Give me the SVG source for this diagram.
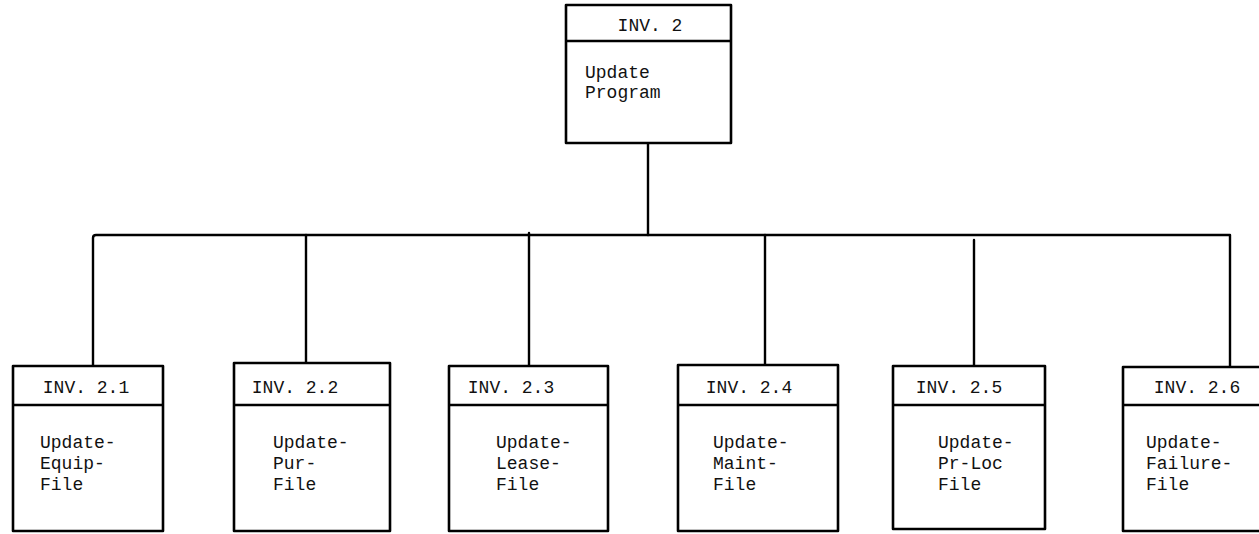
<svg xmlns="http://www.w3.org/2000/svg" width="1259" height="534" viewBox="0 0 1259 534">
  <style>
    .box { fill: #fff; stroke: #000; stroke-width: 2.6; stroke-linejoin: round; }
    .rule { stroke: #000; stroke-width: 2.4; fill: none; }
    .wire { stroke: #000; stroke-width: 2.4; fill: none; stroke-linecap: round; stroke-linejoin: round; }
    .t { font-family: "Liberation Mono", "DejaVu Sans Mono", monospace; font-size: 18px; fill: #111; }
    .c { text-anchor: middle; }
  </style>
  <rect width="1259" height="534" fill="#fff"/>

  <!-- connectors: trunk, bus and drops -->
  <g id="connectors">
    <path class="wire" d="M648 143 V235"/>
    <path class="wire" d="M93 366 V238 Q93 235 96 235 H1230 V367"/>
    <path class="wire" d="M306 235 V363"/>
    <path class="wire" d="M529 233 V366"/>
    <path class="wire" d="M765 235 V365"/>
    <path class="wire" d="M974 240 V366"/>
  </g>

  <g id="inv-2">
    <rect class="box" x="566" y="5" width="165" height="138"/>
    <line class="rule" x1="566" y1="41" x2="731" y2="41"/>
    <text class="t c" x="650" y="31">INV. 2</text>
    <text class="t" x="585" y="78">Update</text>
    <text class="t" x="585" y="98">Program</text>
  </g>

  <g id="inv-2-1">
    <rect class="box" x="13" y="366" width="150" height="165"/>
    <line class="rule" x1="13" y1="405" x2="163" y2="405"/>
    <text class="t c" x="86" y="393">INV. 2.1</text>
    <text class="t" x="40" y="448">Update-</text>
    <text class="t" x="40" y="469">Equip-</text>
    <text class="t" x="40" y="490">File</text>
  </g>

  <g id="inv-2-2">
    <rect class="box" x="234" y="363" width="156" height="168"/>
    <line class="rule" x1="234" y1="405" x2="390" y2="405"/>
    <text class="t c" x="295" y="393">INV. 2.2</text>
    <text class="t" x="273" y="448">Update-</text>
    <text class="t" x="273" y="469">Pur-</text>
    <text class="t" x="273" y="490">File</text>
  </g>

  <g id="inv-2-3">
    <rect class="box" x="449" y="366" width="159" height="165"/>
    <line class="rule" x1="449" y1="405" x2="608" y2="405"/>
    <text class="t c" x="511" y="393">INV. 2.3</text>
    <text class="t" x="496" y="448">Update-</text>
    <text class="t" x="496" y="469">Lease-</text>
    <text class="t" x="496" y="490">File</text>
  </g>

  <g id="inv-2-4">
    <rect class="box" x="678" y="365" width="160" height="166"/>
    <line class="rule" x1="678" y1="405" x2="838" y2="405"/>
    <text class="t c" x="749" y="393">INV. 2.4</text>
    <text class="t" x="713" y="448">Update-</text>
    <text class="t" x="713" y="469">Maint-</text>
    <text class="t" x="713" y="490">File</text>
  </g>

  <g id="inv-2-5">
    <rect class="box" x="893" y="366" width="152" height="163"/>
    <line class="rule" x1="893" y1="405" x2="1045" y2="405"/>
    <text class="t c" x="959" y="393">INV. 2.5</text>
    <text class="t" x="938" y="448">Update-</text>
    <text class="t" x="938" y="469">Pr-Loc</text>
    <text class="t" x="938" y="490">File</text>
  </g>

  <g id="inv-2-6">
    <rect class="box" x="1123" y="367" width="140" height="164"/>
    <line class="rule" x1="1123" y1="405" x2="1263" y2="405"/>
    <text class="t c" x="1197" y="393">INV. 2.6</text>
    <text class="t" x="1146" y="448">Update-</text>
    <text class="t" x="1146" y="469">Failure-</text>
    <text class="t" x="1146" y="490">File</text>
  </g>
</svg>
